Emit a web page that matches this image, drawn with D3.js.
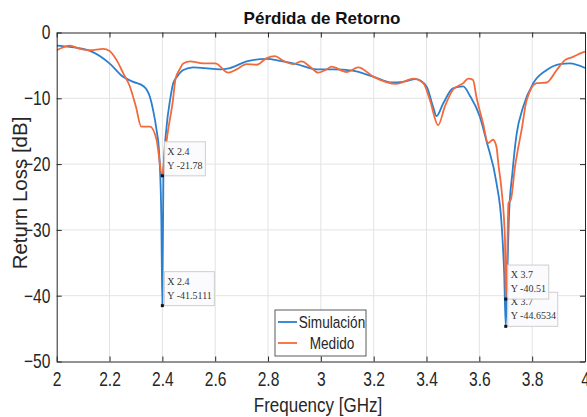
<!DOCTYPE html>
<html lang="es">
<head>
  <meta charset="utf-8">
  <title>Pérdida de Retorno</title>
  <script src="https://d3js.org/d3.v7.min.js"></script>
  <style>
    body { margin: 0; background: #fff; }
    svg { font-family: 'Liberation Sans', Arial, sans-serif; }
    .grid line { stroke: #e3e3e3; stroke-width: 1px; }
    .axis path, .axis line { stroke: #262626; }
    .axis text { fill: #262626; font-size: 20px; }
    .tip text { font-family: 'Liberation Serif', 'DejaVu Serif', serif; font-size: 10px; fill: #333; }
  </style>
</head>
<body>
<div id="chart"></div>
<script>
  // Simulated return loss (blue)
  var simFreq = [2.00, 2.05, 2.126, 2.20, 2.25, 2.29, 2.33, 2.353, 2.365, 2.378, 2.388, 2.396, 2.40,
    2.404, 2.416, 2.429, 2.441, 2.454, 2.479, 2.517, 2.56, 2.618, 2.656, 2.719, 2.795, 2.845, 2.908,
    2.984, 3.047, 3.12, 3.198, 3.27, 3.31, 3.36, 3.40, 3.425, 3.438, 3.463, 3.50, 3.539, 3.564,
    3.602, 3.627, 3.665, 3.684, 3.694, 3.70, 3.706, 3.712, 3.725, 3.741, 3.766, 3.804, 3.855,
    3.905, 3.943, 4.00];
  var simLoss = [-2.0, -2.2, -2.8, -4.7, -6.7, -7.5, -8.2, -9.8, -11.8, -14.8, -18.4, -28, -41.5111,
    -21.4, -14.3, -10.3, -7.7, -6.8, -5.7, -5.3, -5.4, -5.6, -5.4, -4.4, -4.0, -4.3, -4.8,
    -5.6, -5.6, -5.8, -6.7, -7.6, -7.5, -7.1, -8.2, -11.3, -12.7, -10.8, -8.5, -8.2, -9.6,
    -12.8, -16.5, -22.9, -29, -36.6, -44.6534, -36.6, -28, -21.4, -15.5, -11.3, -7.7, -5.7,
    -4.8, -4.7, -5.4];

  // Measured return loss (orange)
  var medFreq = [2.00, 2.05, 2.088, 2.126, 2.176, 2.20, 2.227, 2.252, 2.277, 2.30, 2.32, 2.353, 2.378,
    2.40, 2.404, 2.42, 2.44, 2.45, 2.467, 2.479, 2.505, 2.555, 2.60, 2.65, 2.681, 2.719, 2.757,
    2.795, 2.826, 2.858, 2.896, 2.927, 2.959, 2.99, 3.022, 3.04, 3.098, 3.142, 3.198, 3.286,
    3.35, 3.388, 3.413, 3.444, 3.469, 3.50, 3.539, 3.558, 3.576, 3.589, 3.614, 3.633, 3.652,
    3.665, 3.672, 3.684, 3.697, 3.70, 3.706, 3.71, 3.72, 3.735, 3.745, 3.76, 3.779, 3.817,
    3.855, 3.893, 3.924, 3.955, 3.987, 4.00];
  var medLoss = [-2.7, -2.0, -2.5, -2.7, -2.5, -2.8, -4.2, -6.2, -8.2, -11.3, -14.3, -14.3, -16.3,
    -21.78, -20.4, -15.3, -10.3, -7.0, -5.5, -4.7, -4.4, -4.7, -4.7, -6.1, -5.6, -4.8, -4.9,
    -3.9, -3.6, -4.3, -4.8, -4.4, -5.2, -6.1, -5.6, -5.2, -6.0, -5.3, -6.7, -7.8,
    -7.0, -7.7, -10.3, -14.1, -11.3, -8.7, -7.7, -7.0, -7.2, -9.8, -13.8, -16.8, -16.3,
    -17.4, -20, -23.9, -31.5, -40.51, -33, -26, -25.3, -20.4, -18, -14.8, -10.3, -7.7,
    -7.6, -5.7, -4.2, -3.7, -3.1, -2.9];

  var xTicks = [2, 2.2, 2.4, 2.6, 2.8, 3, 3.2, 3.4, 3.6, 3.8, 4];
  var yTicks = [0, -10, -20, -30, -40, -50];
  var seriesNames = ["Simulación", "Medido"];

  // Data tips
  var tipX = [2.4, 2.4, 3.7, 3.7];
  var tipY = [-21.78, -41.5111, -44.6534, -40.51];
  var tipLabel = ["-21.78", "-41.5111", "-44.6534", "-40.51"];

  var margin = {top: 32.5, right: 2, bottom: 55.5, left: 56.7},
      width = 587 - margin.left - margin.right,
      height = 417 - margin.top - margin.bottom;

  var blue = "#2a7fd0", orange = "#f26a3c";

  var svgRoot = d3.select("#chart").append("svg")
      .attr("width", 587)
      .attr("height", 417);

  var svg = svgRoot.append("g")
      .attr("transform", "translate(" + margin.left + "," + margin.top + ")");

  var x = d3.scaleLinear().domain([2, 4]).range([0, width]);
  var y = d3.scaleLinear().domain([-50, 0]).range([height, 0]);

  // grid
  svg.append("g").attr("class", "grid")
      .selectAll("line.gx").data(xTicks.slice(1, -1)).enter().append("line")
      .attr("x1", d => x(d)).attr("x2", d => x(d)).attr("y1", 0).attr("y2", height);
  svg.select(".grid")
      .selectAll("line.gy").data(yTicks.slice(1, -1)).enter().append("line")
      .attr("y1", d => y(d)).attr("y2", d => y(d)).attr("x1", 0).attr("x2", width);

  // lines
  var line = d3.line()
      .x(d => x(d[0]))
      .y(d => y(d[1]))
      .curve(d3.curveMonotoneX);

  var simData = simFreq.map((f, i) => [f, simLoss[i]]);
  var medData = medFreq.map((f, i) => [f, medLoss[i]]);

  svg.append("clipPath").attr("id", "clip").append("rect")
      .attr("width", width).attr("height", height);

  svg.append("path").datum(simData)
      .attr("fill", "none").attr("stroke", blue).attr("stroke-width", 1.8)
      .attr("clip-path", "url(#clip)")
      .attr("d", line);
  svg.append("path").datum(medData)
      .attr("fill", "none").attr("stroke", orange).attr("stroke-width", 1.8)
      .attr("clip-path", "url(#clip)")
      .attr("d", line);

  // axes (box style, ticks inward)
  var xAxis = svg.append("g").attr("class", "axis")
      .attr("transform", "translate(0," + height + ")")
      .call(d3.axisBottom(x).tickValues(xTicks).tickSizeInner(-5).tickSizeOuter(0).tickPadding(10)
        .tickFormat(d3.format("")));
  xAxis.selectAll("text").attr("transform", "scale(0.78,1)").attr("dy", "0.75em");

  svg.append("g").attr("class", "axis")
      .call(d3.axisTop(x).tickValues(xTicks).tickSizeInner(-5).tickSizeOuter(0).tickFormat(""));

  var yAxis = svg.append("g").attr("class", "axis")
      .call(d3.axisLeft(y).tickValues(yTicks).tickSizeInner(-5).tickSizeOuter(0).tickPadding(8)
        .tickFormat(d3.format("")));
  yAxis.selectAll("text").attr("transform", "scale(0.78,1)");

  svg.append("g").attr("class", "axis")
      .attr("transform", "translate(" + width + ",0)")
      .call(d3.axisRight(y).tickValues(yTicks).tickSizeInner(-5).tickSizeOuter(0).tickFormat(""));

  // title and labels
  svgRoot.append("text")
      .attr("x", 322).attr("y", 24)
      .attr("text-anchor", "middle")
      .style("font-weight", "bold").style("font-size", "17px").style("fill", "#111")
      .text("Pérdida de Retorno");

  svgRoot.append("text")
      .attr("transform", "translate(318,412) scale(0.85,1)")
      .attr("text-anchor", "middle")
      .style("font-size", "20px").style("fill", "#262626")
      .text("Frequency [GHz]");

  svgRoot.append("text")
      .attr("transform", "translate(27,193) rotate(-90)")
      .attr("text-anchor", "middle")
      .style("font-size", "20.5px").style("fill", "#262626")
      .text("Return Loss [dB]");

  // data tips
  tipX.forEach(function(tx, i) {
    var px = x(tx), py = y(tipY[i]);
    var g = svg.append("g").attr("class", "tip");
    var w = tipLabel[i].length > 6 ? 50 : 41;
    g.append("rect")
        .attr("x", px + 2).attr("y", py - 34)
        .attr("width", w).attr("height", 34)
        .attr("fill", "#fbfbfe").attr("fill-opacity", 0.92)
        .attr("stroke", "#cfcfcf");
    g.append("text").attr("x", px + 5).attr("y", py - 21).text("X " + tx);
    g.append("text").attr("x", px + 5).attr("y", py - 7).text("Y " + tipLabel[i]);
    g.append("rect")
        .attr("x", px - 1.5).attr("y", py - 1.5)
        .attr("width", 3).attr("height", 3)
        .attr("fill", "#111");
  });

  // legend
  var lg = svgRoot.append("g").attr("transform", "translate(275,310)");
  lg.append("rect").attr("width", 91).attr("height", 46)
      .attr("fill", "#fff").attr("stroke", "#333").attr("stroke-width", 0.8);
  [blue, orange].forEach(function(c, i) {
    var ly = 12 + i * 21;
    lg.append("line").attr("x1", 3).attr("x2", 22).attr("y1", ly).attr("y2", ly)
        .attr("stroke", c).attr("stroke-width", 1.8);
    lg.append("text")
        .attr("transform", "translate(57," + (ly + 6) + ") scale(0.8,1)")
        .attr("text-anchor", "middle")
        .style("font-size", "17px").style("fill", "#262626")
        .text(seriesNames[i]);
  });
</script>
</body>
</html>
